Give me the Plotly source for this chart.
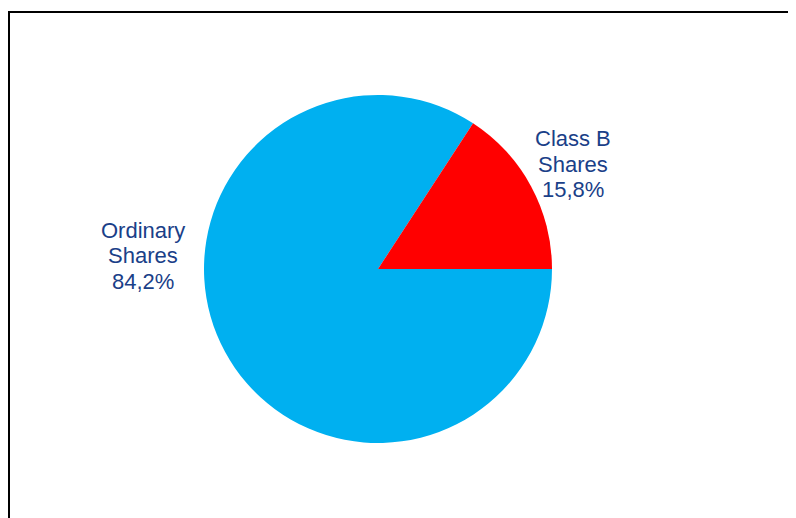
import plotly.graph_objects as go

categories = ["Ordinary Shares", "Class B Shares"]
values = [84.2, 15.8]
label_lines = [["Ordinary", "Shares"], ["Class B", "Shares"]]
colors = ["#00B0F0", "#FF0000"]

W, H = 796, 518
OFF = 8  # page offset of the rendered figure
cx, cy, r = 378 - OFF, 269 - OFF, 174


def px(x):
    return x / W


def py(y):
    return 1 - y / H


fig = go.Figure()
fig.add_trace(go.Pie(
    labels=categories,
    values=values,
    sort=False,
    direction="clockwise",
    rotation=90,
    marker=dict(colors=colors, line=dict(width=0)),
    textinfo="none",
    hoverinfo="label+percent",
    showlegend=False,
    domain=dict(x=[px(cx - r), px(cx + r)], y=[py(cy + r), py(cy - r)]),
))

label_pos = [(143 - OFF, 256 - OFF), (573 - OFF, 164 - OFF)]
line_gap = 25.5
for lines, v, (lx, ly) in zip(label_lines, values, label_pos):
    all_lines = lines + [f"{v:.1f}%".replace(".", ",")]
    n = len(all_lines)
    for i, t in enumerate(all_lines):
        yy = ly + (i - (n - 1) / 2) * line_gap
        fig.add_annotation(
            x=px(lx), y=py(yy), xref="paper", yref="paper",
            text=t, showarrow=False, xanchor="center", yanchor="middle",
            font=dict(family="Liberation Sans, Arial, sans-serif", size=22, color="#1A4088"),
        )

fig.add_shape(type="rect", xref="paper", yref="paper",
              x0=px(1), x1=1.2, y0=-0.2, y1=py(12 - OFF),
              line=dict(color="#000000", width=2), fillcolor="rgba(0,0,0,0)")

fig.update_layout(
    width=W, height=H,
    margin=dict(l=0, r=0, t=0, b=0),
    paper_bgcolor="white", plot_bgcolor="white",
)
fig.write_html("out.html")
